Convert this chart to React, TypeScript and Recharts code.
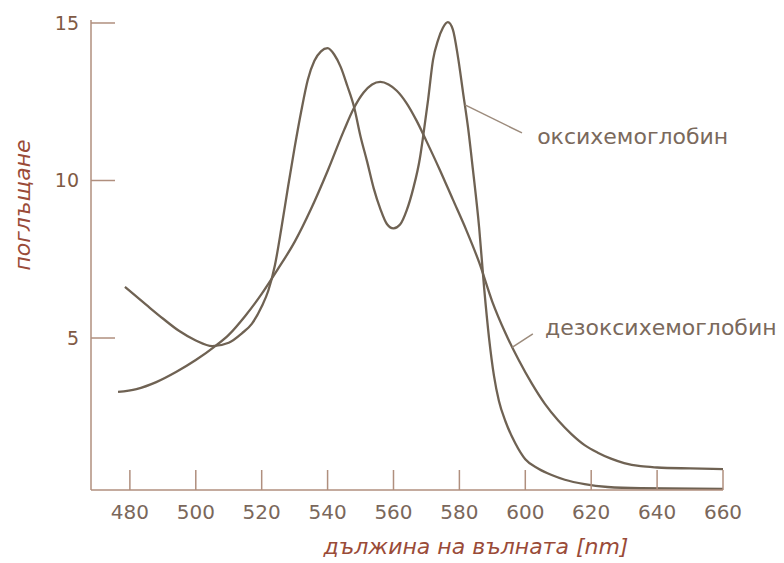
import React from 'react';
import { LineChart, Line, XAxis, YAxis, ReferenceLine, ReferenceDot, Label } from 'recharts';

// ---- data ----
const oxyWavelengths = [478.5, 485, 490, 495, 500, 505, 510, 514, 517, 520, 522, 524, 526, 528, 530, 532, 534, 536, 538, 540, 542, 544, 546, 548, 550, 552, 554, 556, 558, 560, 562, 564, 566, 568, 569, 570.5, 572, 573.5, 575, 576.5, 578, 579.6, 581.1, 582.6, 584.1, 586, 587.5, 589, 590.5, 592, 594, 597, 600, 604, 608, 612, 618, 625, 635, 660];
const oxyAbsorbance = [6.62, 6.05, 5.62, 5.22, 4.92, 4.74, 4.85, 5.15, 5.45, 6.0, 6.5, 7.3, 8.5, 9.8, 11.05, 12.2, 13.2, 13.8, 14.1, 14.2, 14.0, 13.6, 13.0, 12.35, 11.4, 10.6, 9.75, 9.1, 8.62, 8.48, 8.6, 9.05, 9.75, 10.7, 11.4, 12.56, 13.83, 14.45, 14.85, 15.03, 14.8, 13.9, 12.8, 11.7, 10.35, 8.5, 6.6, 5.0, 3.8, 3.0, 2.35, 1.65, 1.15, 0.85, 0.65, 0.5, 0.36, 0.27, 0.23, 0.21];

const deoxyWavelengths = [476.4, 482, 488, 494, 500, 506, 510, 515, 520, 525, 530, 535, 540, 545, 548, 551, 553.5, 556, 558.5, 561, 564, 567, 570, 574, 578, 582, 586, 590, 594, 598, 602, 606, 610, 614, 618, 622, 626, 630, 635, 640, 650, 660];
const deoxyAbsorbance = [3.29, 3.38, 3.6, 3.92, 4.3, 4.75, 5.1, 5.7, 6.4, 7.2, 8.05, 9.1, 10.3, 11.6, 12.3, 12.8, 13.05, 13.13, 13.05, 12.85, 12.45, 11.9, 11.25, 10.35, 9.4, 8.45, 7.4, 6.15, 5.15, 4.3, 3.55, 2.9, 2.38, 1.95, 1.6, 1.36, 1.17, 1.03, 0.93, 0.89, 0.86, 0.84];

const xTicks = [480, 500, 520, 540, 560, 580, 600, 620, 640, 660];
const yTicks = [5, 10, 15];

const xAxisTitle = 'дължина на вълната [nm]';
const yAxisTitle = 'поглъщане';
const oxyLabel = 'оксихемоглобин';
const deoxyLabel = 'дезоксихемоглобин';

// annotation anchors (data coordinates)
const oxyPointer = [{ x: 581.7, y: 12.4 }, { x: 599.0, y: 11.51 }];
const deoxyPointer = [{ x: 596.0, y: 4.7 }, { x: 602.3, y: 5.13 }];
const oxyLabelAt = { x: 603.6, y: 11.41 };
const deoxyLabelAt = { x: 606.0, y: 5.32 };

const oxyData = oxyWavelengths.map((nm, i) => ({ nm, v: oxyAbsorbance[i] }));
const deoxyData = deoxyWavelengths.map((nm, i) => ({ nm, v: deoxyAbsorbance[i] }));

const FONT = '"DejaVu Sans", sans-serif';
const CURVE = '#6f6253';
const AXIS = '#b08f7e';
const TITLE = '#9a4b38';

const XTick = (props: any) => {
  const { x, y, payload } = props;
  return (
    <g>
      <line x1={x} y1={y} x2={x} y2={y - 20} stroke={AXIS} strokeWidth={1.5} />
      <text x={x} y={y + 29} textAnchor="middle" fontFamily={FONT} fontSize={20} fill="#7a675b">
        {payload.value}
      </text>
    </g>
  );
};

const YTick = (props: any) => {
  const { x, y, payload } = props;
  return (
    <g>
      <line x1={x} y1={y} x2={x + 24} y2={y} stroke={AXIS} strokeWidth={1.5} />
      <text x={x - 12} y={y} dy="0.36em" textAnchor="end" fontFamily={FONT} fontSize={19} fill="#7f5a44">
        {payload.value}
      </text>
    </g>
  );
};

const XTitle = (props: any) => {
  const vb = props.viewBox;
  return (
    <text x={vb.x + vb.width / 2 + 69} y={vb.y + 64} textAnchor="middle" fontFamily={FONT} fontSize={22} fontStyle="italic" fill={TITLE}>
      {xAxisTitle}
    </text>
  );
};

const YTitle = (props: any) => {
  const vb = props.viewBox;
  const cx = vb.x - 19;
  const cy = vb.y + 185;
  return (
    <text x={cx} y={cy} transform={`rotate(-90 ${cx} ${cy})`} textAnchor="middle" dominantBaseline="central" fontFamily={FONT} fontSize={22} fontStyle="italic" fill={TITLE}>
      {yAxisTitle}
    </text>
  );
};

const makeLabelShape = (text: string) => (p: any) => (
  <text x={p.cx} y={p.cy} dominantBaseline="central" fontFamily={FONT} fontSize={22} fill="#7a695c">
    {text}
  </text>
);

export default function App() {
  return (
    <div style={{ position: 'absolute', left: 0, top: 0, background: '#fff' }}>
      <LineChart width={784} height={563} margin={{ top: 20, right: 61, bottom: 43, left: 41 }}>
        <XAxis
          dataKey="nm"
          type="number"
          domain={[468.2, 660]}
          ticks={xTicks}
          allowDataOverflow
          height={30}
          tickSize={0}
          tickMargin={0}
          tick={<XTick />}
          axisLine={{ stroke: AXIS, strokeWidth: 1.5 }}
          tickLine={false}
        >
          <Label content={<XTitle />} />
        </XAxis>
        <YAxis
          type="number"
          domain={[0.175, 15.095]}
          ticks={yTicks}
          allowDataOverflow
          width={50}
          tickSize={0}
          tickMargin={0}
          tick={<YTick />}
          axisLine={{ stroke: AXIS, strokeWidth: 1.5 }}
          tickLine={false}
        >
          <Label content={<YTitle />} />
        </YAxis>
        <Line data={oxyData} dataKey="v" type="monotone" stroke={CURVE} strokeWidth={2.3} dot={false} isAnimationActive={false} />
        <Line data={deoxyData} dataKey="v" type="monotone" stroke={CURVE} strokeWidth={2.3} dot={false} isAnimationActive={false} />
        <ReferenceLine segment={oxyPointer} stroke="#9c8b7c" strokeWidth={1.5} ifOverflow="visible" />
        <ReferenceLine segment={deoxyPointer} stroke="#9c8b7c" strokeWidth={1.5} ifOverflow="visible" />
        <ReferenceDot x={oxyLabelAt.x} y={oxyLabelAt.y} r={0} ifOverflow="visible" shape={makeLabelShape(oxyLabel)} />
        <ReferenceDot x={deoxyLabelAt.x} y={deoxyLabelAt.y} r={0} ifOverflow="visible" shape={makeLabelShape(deoxyLabel)} />
      </LineChart>
    </div>
  );
}
